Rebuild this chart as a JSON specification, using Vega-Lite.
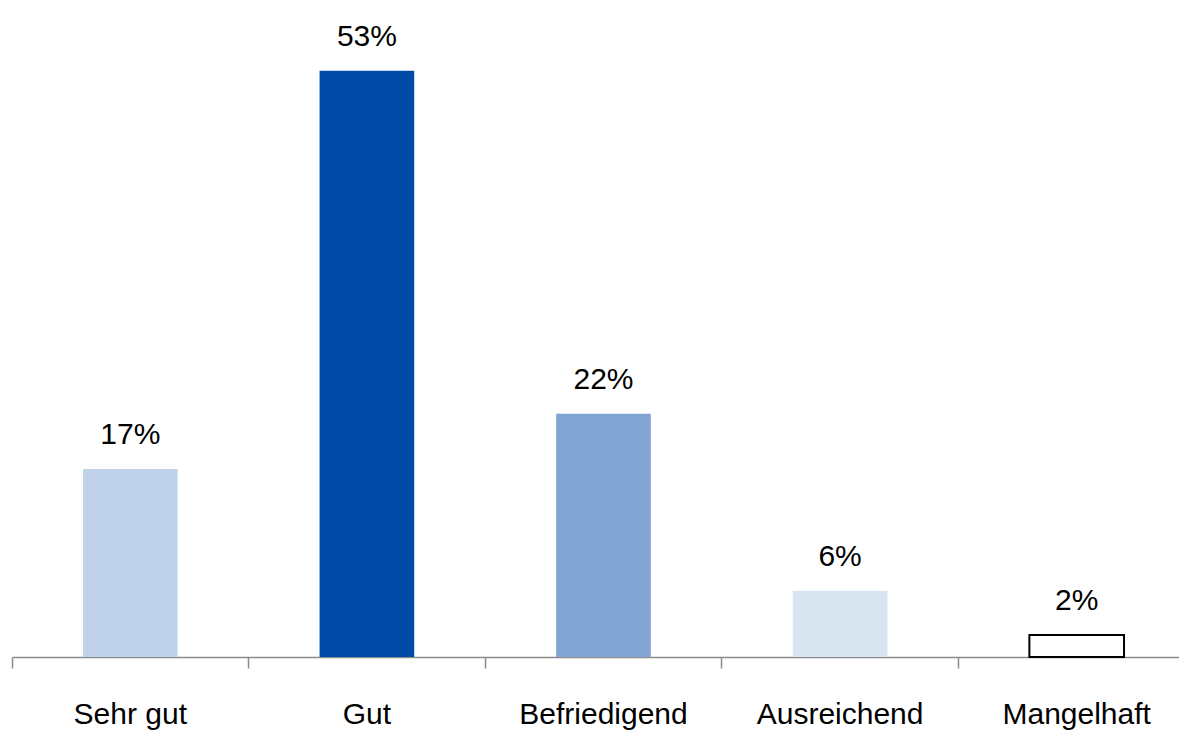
{
  "$schema": "https://vega.github.io/schema/vega-lite/v6.json",
  "autosize": {"type": "none"},
  "padding": {"left": 12, "top": 0, "right": 0, "bottom": 74},
  "width": 1183,
  "height": 657,
  "background": "white",
  "config": {"view": {"stroke": null}, "font": "Liberation Sans"},
  "data": {"values": [
    {"cat": "Sehr gut", "value": 0.17, "color": "#BFD2E9"},
    {"cat": "Gut", "value": 0.53, "color": "#004AA8"},
    {"cat": "Befriedigend", "value": 0.22, "color": "#80A5D2"},
    {"cat": "Ausreichend", "value": 0.06, "color": "#D9E4F1"},
    {"cat": "Mangelhaft", "value": 0.02, "color": "#FFFFFF"}
  ]},
  "encoding": {
    "x": {"field": "cat", "type": "nominal", "sort": null,
      "scale": {"paddingInner": 0, "paddingOuter": 0},
      "axis": {"title": null, "labelAngle": 0, "bandPosition": 0, "domainColor": "#8C8C8C", "domainWidth": 1.5,
        "tickColor": "#8C8C8C", "tickWidth": 1.5, "tickSize": 11, "labelPadding": 55, "labelBaseline": "alphabetic",
        "labelFontSize": 30, "labelColor": "#000000", "labelFont": "Liberation Sans", "labelOffset": 0}},
    "y": {"field": "value", "type": "quantitative", "scale": {"domain": [0, 0.594], "nice": false, "zero": true}, "axis": null}
  },
  "layer": [
    {"mark": {"type": "bar", "width": {"band": 0.4}, "stroke": "#000000", "strokeWidth": 0},
     "encoding": {
       "color": {"field": "color", "type": "nominal", "scale": null},
       "strokeWidth": {"condition": {"test": "datum.cat === 'Mangelhaft'", "value": 2}, "value": 0}
     }},
    {"mark": {"type": "text", "baseline": "alphabetic", "dy": -25, "fontSize": 30, "font": "Liberation Sans", "color": "#000000"},
     "encoding": {"text": {"field": "value", "type": "quantitative", "format": ".0%"}}}
  ]
}
